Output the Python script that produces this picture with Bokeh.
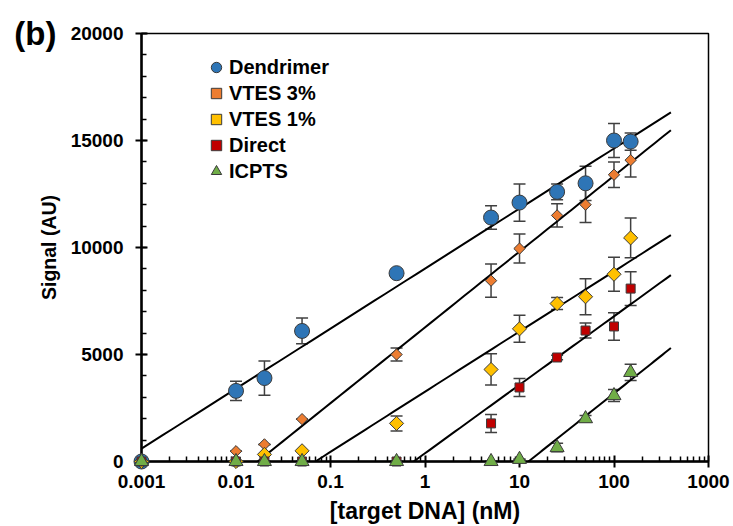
import math
from bokeh.plotting import figure
from bokeh.models import (ColumnDataSource, Whisker, TeeHead, FixedTicker, SingleIntervalTicker,
                          CustomJSTickFormatter, Legend, LegendItem, LinearAxis, Range1d)
from bokeh.embed import file_html
from bokeh.resources import INLINE

# ---------------- data ----------------
series_names = ["Dendrimer", "VTES 3%", "VTES 1%", "Direct", "ICPTS"]

x_dendrimer = [0.001, 0.01, 0.02, 0.05, 0.5, 5, 10, 25, 50, 100, 150]
y_dendrimer = [0, 3300, 3900, 6100, 8800, 11400, 12100, 12600, 13000, 15000, 14950]
e_dendrimer = [0, 450, 800, 600, 150, 550, 870, 370, 800, 800, 400]

x_vtes3 = [0.001, 0.01, 0.02, 0.05, 0.5, 5, 10, 25, 50, 100, 150]
y_vtes3 = [0, 480, 800, 1980, 5000, 8450, 9950, 11500, 12000, 13400, 14080]
e_vtes3 = [0, 0, 0, 0, 300, 780, 680, 540, 830, 600, 780]

x_vtes1 = [0.001, 0.01, 0.02, 0.05, 0.5, 5, 10, 25, 50, 100, 150]
y_vtes1 = [0, 0, 330, 500, 1780, 4300, 6200, 7380, 7700, 8750, 10450]
e_vtes1 = [0, 0, 0, 0, 350, 730, 630, 280, 840, 800, 930]

x_direct = [0.001, 0.01, 0.02, 0.05, 0.5, 5, 10, 25, 50, 100, 150]
y_direct = [0, 0, 0, 0, 0, 1780, 3460, 4860, 6120, 6310, 8080]
e_direct = [0, 0, 0, 0, 0, 420, 420, 100, 350, 640, 790]

x_icpts = [0.001, 0.01, 0.02, 0.05, 0.5, 5, 10, 25, 50, 100, 150]
y_icpts = [0, 0, 0, 0, 0, 0, 100, 650, 2000, 3080, 4160]
e_icpts = [0, 0, 0, 0, 0, 0, 0, 200, 150, 280, 380]

# log-linear trend lines: y = slope*log10(x) + intercept
fit_slope = [2805, 3541, 2812, 3200, 3518]
fit_intercept = [9015, 6268, 3262, 384, -3852]
fit_x_end = 400

x_ticks = [0.001, 0.01, 0.1, 1, 10, 100, 1000]
panel_tag = "(b)"

# ---------------- style ----------------
colors = ["#2E75B6", "#ED7D31", "#FFC000", "#C00000", "#70AD47"]
markers = ["circle", "square", "square", "square", "triangle"]
sizes = [15, 8, 10, 9, 14]
angles = [0, math.pi / 4, math.pi / 4, 0, 0]
FONT = "Liberation Sans"

p = figure(width=733, height=526, x_axis_type="log", output_backend="svg",
           toolbar_location=None, x_range=Range1d(0.001, 1000), y_range=Range1d(0, 20000),
           min_border_left=141, min_border_right=25, min_border_top=33, min_border_bottom=65)
p.background_fill_color = "white"
p.border_fill_color = "white"
p.xgrid.visible = False
p.ygrid.visible = False
p.outline_line_color = "black"
p.outline_line_width = 1.5

xs_all = [x_dendrimer, x_vtes3, x_vtes1, x_direct, x_icpts]
ys_all = [y_dendrimer, y_vtes3, y_vtes1, y_direct, y_icpts]
es_all = [e_dendrimer, e_vtes3, e_vtes1, e_direct, e_icpts]

# trend lines
for s, b in zip(fit_slope, fit_intercept):
    x0 = max(0.001, 10 ** (-b / s))
    lx0, lx1 = math.log10(x0), math.log10(fit_x_end)
    n = 50
    lxs = [lx0 + (lx1 - lx0) * i / n for i in range(n + 1)]
    p.line([10 ** v for v in lxs], [s * v + b for v in lxs], line_color="black", line_width=2)

items = []
for name, xs, ys, es, c, m, sz, ang in zip(series_names, xs_all, ys_all, es_all, colors, markers, sizes, angles):
    src = ColumnDataSource(dict(x=xs, y=ys, lo=[y - e for y, e in zip(ys, es)], hi=[y + e for y, e in zip(ys, es)]))
    w = Whisker(source=src, base="x", upper="hi", lower="lo", dimension="height",
                line_color="#404040", line_width=1.5, level="underlay",
                upper_head=TeeHead(size=12, line_color="#404040", line_width=1.5),
                lower_head=TeeHead(size=12, line_color="#404040", line_width=1.5))
    p.add_layout(w)
    r = p.scatter("x", "y", source=src, marker=m, size=sz, angle=ang, fill_color=c,
                  line_color="#3a3a3a", line_width=1)
    r.level = "overlay"
    items.append(LegendItem(label=name, renderers=[r]))

legend = Legend(items=items, location=(62, 277), border_line_alpha=0, background_fill_alpha=0,
                label_text_font=FONT, label_text_font_style="bold", label_text_font_size="20px",
                label_text_color="black", glyph_width=26, glyph_height=26, label_height=22,
                spacing=0, padding=0, margin=0, label_standoff=0)
p.add_layout(legend, "center")

# axes
xa = p.xaxis[0]
xa.ticker = FixedTicker(ticks=x_ticks,
                        minor_ticks=[k * 10 ** d for d in range(-3, 3) for k in range(2, 10)])
xa.formatter = CustomJSTickFormatter(code="return String(tick);")
ya = p.yaxis[0]
ya.ticker = SingleIntervalTicker(interval=5000, num_minor_ticks=5)

for ax in (xa, ya):
    ax.axis_line_color = "black"
    ax.axis_line_width = 2.5
    ax.major_tick_line_color = "black"
    ax.major_tick_line_width = 2
    ax.minor_tick_line_color = "black"
    ax.minor_tick_line_width = 1.5
    ax.major_tick_in = 6
    ax.major_tick_out = 6
    ax.minor_tick_in = 5
    ax.minor_tick_out = 0
    ax.major_label_text_font = FONT
    ax.major_label_text_font_style = "bold"
    ax.major_label_text_font_size = "19px"
    ax.major_label_text_color = "black"
    ax.axis_label_text_font = FONT
    ax.axis_label_text_font_style = "bold"
    ax.axis_label_text_color = "black"

xa.axis_label = "[target DNA] (nM)"
ya.axis_label = "Signal (AU)"
xa.axis_label_text_font_size = "23px"
ya.axis_label_text_font_size = "19.5px"
xa.major_label_standoff = 7
xa.axis_label_standoff = 7
ya.major_label_standoff = 12
ya.axis_label_standoff = 8

# panel tag "(b)" drawn as the only label of an invisible outer left axis
tag_axis = LinearAxis(ticker=FixedTicker(ticks=[20000]),
                      major_label_overrides={20000: panel_tag},
                      axis_line_alpha=0, major_tick_line_alpha=0, minor_tick_line_alpha=0,
                      major_tick_in=0, major_tick_out=0, minor_tick_in=0, minor_tick_out=0,
                      major_label_standoff=-22, major_label_text_font=FONT,
                      major_label_text_font_style="bold", major_label_text_font_size="33px",
                      major_label_text_color="black")
p.add_layout(tag_axis, "left")

open("out.html", "w").write(file_html(p, INLINE))
